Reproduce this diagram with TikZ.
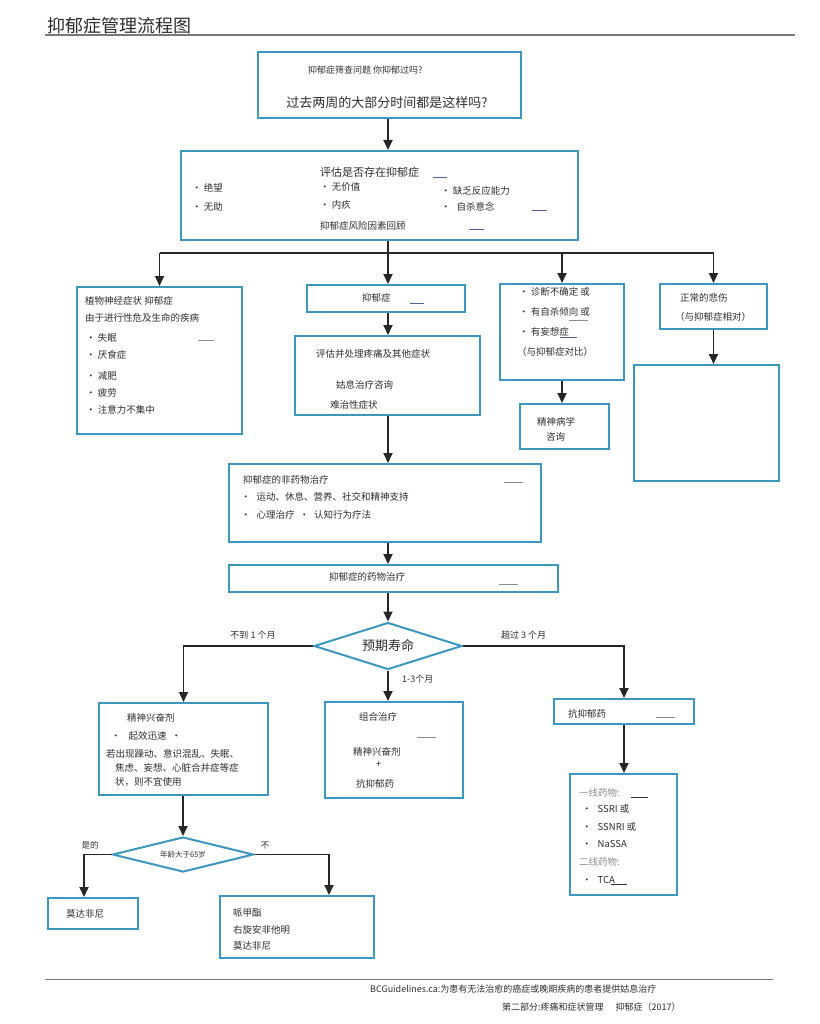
\documentclass[tikz,border=0pt]{standalone}
\usepackage{fontspec}
\setmainfont{Noto Sans CJK SC}
\usetikzlibrary{shapes.geometric, arrows.meta, positioning}
\definecolor{boxblue}{RGB}{60, 150, 190}
\definecolor{txtgray}{RGB}{45, 45, 45}
\definecolor{linkblue}{RGB}{80, 95, 160}
\definecolor{softgray}{RGB}{140, 140, 140}
\definecolor{rulegray}{RGB}{120, 120, 120}

\tikzset{
  box/.style={draw=boxblue, line width=2pt, anchor=north west, inner sep=0pt},
  choice/.style={diamond, draw=boxblue, line width=2pt, inner sep=0pt, aspect=3.3},
  txt/.style={anchor=west, inner sep=0pt, text=txtgray, font=\fontsize{9.5}{11}\selectfont},
  link/.style={linkblue, line width=0.9pt},
  linkgray/.style={softgray, line width=0.9pt},
  flow/.style={line width=1.8pt, black!85},
}

\begin{document}
\begin{tikzpicture}[x=1pt, y=-1pt, >={Triangle[length=10pt, width=9pt]}]
\useasboundingbox (0,0) rectangle (819,1024);

% title
\node[txt, font=\fontsize{18}{20}\selectfont] (title) at (47,26) {抑郁症管理流程图};
\draw[rulegray, line width=1.2pt] (45,35) -- (795,35);

% screening
\node[box, minimum width=263pt, minimum height=66pt] (screen) at (257,51) {};
\node[txt, font=\fontsize{9}{10}\selectfont] (screen-q) at (308,70) {抑郁症筛查问题 你抑郁过吗?};
\node[txt, anchor=center, font=\fontsize{13}{15}\selectfont] (screen-p) at (387,103) {过去两周的大部分时间都是这样吗?};

% assessment
\node[box, minimum width=397pt, minimum height=89pt] (assess) at (180,150) {};
\node[txt, font=\fontsize{11}{13}\selectfont] (assess-h) at (320,172) {评估是否存在抑郁症};
\draw[link] (433,177) -- (447,177);
\node[txt] (assess-a1) at (192,188) {· 绝望};
\node[txt] (assess-a2) at (192,207) {· 无助};
\node[txt] (assess-b1) at (320,187) {· 无价值};
\node[txt] (assess-b2) at (320,205) {· 内疚};
\node[txt] (assess-c1) at (441,191) {· 缺乏反应能力};
\node[txt] (assess-c2) at (441,207) {·\hspace{6pt}自杀意念};
\draw[link] (532,210) -- (547,210);
\node[txt] (assess-r) at (320,226) {抑郁症风险因素回顾};
\draw[link] (469,229) -- (484,229);

% four branches
\node[box, minimum width=165pt, minimum height=147pt] (vegetative) at (76,286) {};
\node[txt] (veg-1) at (85,301) {植物神经症状 抑郁症};
\node[txt] (veg-2) at (85,318) {由于进行性危及生命的疾病};
\node[txt] (veg-3) at (86,338) {· 失眠};
\draw[linkgray] (198,340) -- (214,340);
\node[txt] (veg-4) at (86,355) {· 厌食症};
\node[txt] (veg-5) at (86,376) {· 减肥};
\node[txt] (veg-6) at (86,393) {· 疲劳};
\node[txt] (veg-7) at (86,410) {· 注意力不集中};

\node[box, minimum width=158pt, minimum height=27pt] (depr) at (306,284) {};
\node[txt] (depr-t) at (362,298) {抑郁症};
\draw[link] (410,303) -- (424,303);

\node[box, minimum width=185pt, minimum height=79pt] (symptoms) at (294,335) {};
\node[txt] (sym-1) at (316,354) {评估并处理疼痛及其他症状};
\node[txt] (sym-2) at (336,385) {姑息治疗咨询};
\node[txt] (sym-3) at (330,405) {难治性症状};

\node[box, minimum width=124pt, minimum height=96pt] (unsure) at (499,283) {};
\node[txt] (uns-1) at (519,292) {· 诊断不确定 或};
\node[txt] (uns-2) at (519,312) {· 有自杀倾向 或};
\draw[linkgray] (569,320) -- (588,320);
\node[txt] (uns-3) at (519,332) {· 有妄想症};
\draw[link] (560,337) -- (577,337);
\node[txt] (uns-4) at (517,352) {（与抑郁症对比）};

\node[box, minimum width=89pt, minimum height=45pt] (psych) at (519,403) {};
\node[txt] (psych-1) at (537,422) {精神病学};
\node[txt] (psych-2) at (546,437) {咨询};

\node[box, minimum width=107pt, minimum height=45pt] (grief) at (659,283) {};
\node[txt] (grief-1) at (680,298) {正常的悲伤};
\node[txt] (grief-2) at (675,317) {（与抑郁症相对）};

\node[box, minimum width=145pt, minimum height=116pt] (griefcare) at (633,364) {};

% treatment
\node[box, minimum width=312pt, minimum height=78pt] (nondrug) at (228,463) {};
\node[txt] (nd-1) at (243,480) {抑郁症的非药物治疗};
\draw[linkgray] (504,482) -- (523,482);
\node[txt] (nd-2) at (241,497) {·\hspace{6pt}运动、休息、营养、社交和精神支持};
\node[txt] (nd-3) at (241,515) {·\hspace{6pt}心理治疗\hspace{5pt}·\hspace{5pt}认知行为疗法};

\node[box, minimum width=329pt, minimum height=27pt] (drug) at (228,564) {};
\node[txt] (drug-t) at (329,577) {抑郁症的药物治疗};
\draw[linkgray] (499,584) -- (518,584);

\node[choice, minimum width=148pt, minimum height=47pt, font=\fontsize{13}{15}\selectfont, text=txtgray] (life) at (388,646) {预期寿命};
\node[txt, anchor=center, font=\fontsize{9}{10}\selectfont] (lt1) at (253,635) {不到 1 个月};
\node[txt, font=\fontsize{9}{10}\selectfont] (gt3) at (501,635) {超过 3 个月};
\node[txt, font=\fontsize{9}{10}\selectfont] (mid3) at (402,679) {1-3个月};

\node[box, minimum width=169pt, minimum height=92pt] (stim) at (98,702) {};
\node[txt] (stim-1) at (127,718) {精神兴奋剂};
\node[txt] (stim-2) at (111,736) {·\hspace{8pt}起效迅速\hspace{5pt}·};
\node[txt] (stim-3) at (106,754) {若出现躁动、意识混乱、失眠、};
\node[txt] (stim-4) at (115,768) {焦虑、妄想、心脏合并症等症};
\node[txt] (stim-5) at (115,782) {状，则不宜使用};

\node[box, minimum width=138pt, minimum height=96pt] (combo) at (324,701) {};
\node[txt] (combo-1) at (359,717) {组合治疗};
\draw[linkgray] (417,737) -- (436,737);
\node[txt] (combo-2) at (353,752) {精神兴奋剂};
\node[txt] (combo-3) at (376,765) {+};
\node[txt] (combo-4) at (356,784) {抗抑郁药};

\node[box, minimum width=140pt, minimum height=25pt] (antidep) at (553,698) {};
\node[txt] (antidep-t) at (568,714) {抗抑郁药};
\draw[linkgray] (656,717) -- (675,717);

\node[box, minimum width=107pt, minimum height=121pt] (lines) at (569,773) {};
\node[txt, text=softgray] (lines-1) at (579,793) {一线药物:};
\draw[black!80, line width=0.9pt] (631,797) -- (648,797);
\node[txt] (lines-2) at (582,809) {·\hspace{6pt}SSRI 或};
\node[txt] (lines-3) at (582,827) {·\hspace{6pt}SSNRI 或};
\node[txt] (lines-4) at (582,844) {·\hspace{6pt}NaSSA};
\node[txt, text=softgray] (lines-5) at (579,862) {二线药物:};
\node[txt] (lines-6) at (582,880) {·\hspace{6pt}TCA};
\draw[black!80, line width=0.9pt] (611,884) -- (627,884);

\node[choice, aspect=4, minimum width=141pt, minimum height=35pt, font=\fontsize{7.5}{9}\selectfont, text=txtgray] (age) at (183,854.5) {年龄大于65岁};
\node[txt, anchor=center, font=\fontsize{8.5}{10}\selectfont] (yes) at (90,845) {是的};
\node[txt, anchor=center, font=\fontsize{8.5}{10}\selectfont] (no) at (265,846) {不};

\node[box, minimum width=90pt, minimum height=31pt] (modaf) at (47,897) {};
\node[txt] (modaf-t) at (66,914) {莫达非尼};

\node[box, minimum width=154pt, minimum height=62pt] (others) at (219,895) {};
\node[txt] (others-1) at (233,913) {哌甲酯};
\node[txt] (others-2) at (233,930) {右旋安非他明};
\node[txt] (others-3) at (233,946) {莫达非尼};

% connectors
\coordinate (spine) at (388,0);
\coordinate (bus) at (0,253);
\draw[flow, ->] (spine |- screen.south) -- (spine |- assess.north);
\draw[flow] (spine |- assess.south) -- (spine |- bus);
\draw[flow] (vegetative.north |- bus) -- (grief.north |- bus);
\draw[flow, ->] (vegetative.north |- bus) -- (vegetative.north);
\draw[flow, ->] (spine |- bus) -- (spine |- depr.north);
\draw[flow, ->] (unsure.north |- bus) -- (unsure.north);
\draw[flow, ->] (grief.north |- bus) -- (grief.north);
\draw[flow, ->] (spine |- depr.south) -- (spine |- symptoms.north);
\draw[flow, ->] (unsure.south) -- (unsure.south |- psych.north);
\draw[flow, ->] (grief.south) -- (grief.south |- griefcare.north);
\draw[flow, ->] (spine |- symptoms.south) -- (spine |- nondrug.north);
\draw[flow, ->] (spine |- nondrug.south) -- (spine |- drug.north);
\draw[flow, ->] (spine |- drug.south) -- (life.north);
\draw[flow, ->] (life.west) -| (stim.north);
\draw[flow, ->] (life.east) -| (antidep.north);
\draw[flow, ->] (life.south) -- (life.south |- combo.north);
\draw[flow, ->] (antidep.south) -- (antidep.south |- lines.north);
\draw[flow, ->] (age.north |- stim.south) -- (age.north);
\draw[flow, ->] (age.west) -| ([xshift=-9pt]modaf.north);
\draw[flow, ->] (age.east) -| ([xshift=32pt]others.north);

% footer
\draw[rulegray, line width=1pt] (45,979) -- (773,979);
\node[txt, font=\fontsize{9}{10}\selectfont] (foot-1) at (370,989) {BCGuidelines.ca:为患有无法治愈的癌症或晚期疾病的患者提供姑息治疗};
\node[txt, font=\fontsize{9}{10}\selectfont] (foot-2) at (502,1007) {第二部分:疼痛和症状管理\hspace{12pt}抑郁症（2017）};
\end{tikzpicture}
\end{document}
